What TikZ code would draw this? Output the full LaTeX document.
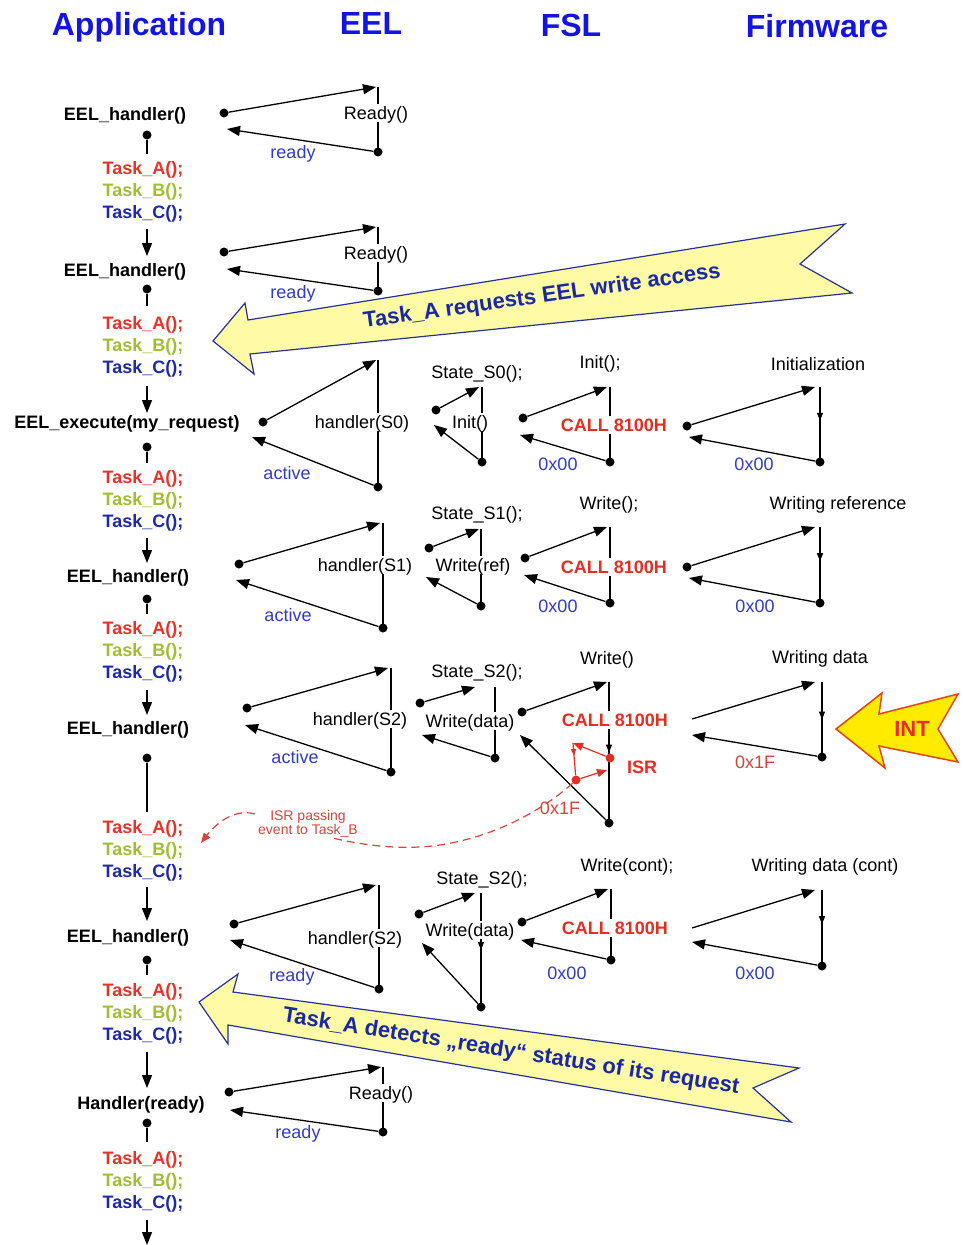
\documentclass[tikz,border=0pt]{standalone}
\usepackage{fontspec}
\setmainfont{Liberation Sans}
\usetikzlibrary{arrows.meta,decorations.markings,calc}

\definecolor{titleblue}{RGB}{20,20,225}
\definecolor{tred}{RGB}{230,50,40}
\definecolor{tgreen}{RGB}{160,190,50}
\definecolor{tblue}{RGB}{30,40,170}
\definecolor{rblue}{RGB}{50,60,190}
\definecolor{callred}{RGB}{230,45,35}
\definecolor{isrred}{RGB}{210,70,60}
\definecolor{bannerfill}{RGB}{255,250,165}
\definecolor{banneredge}{RGB}{40,50,150}
\definecolor{bannertext}{RGB}{25,40,165}
\definecolor{intfill}{RGB}{255,235,0}
\definecolor{intedge}{RGB}{225,70,20}

\newcommand\fsz[1]{\fontsize{#1}{#1}\selectfont}

\tikzset{
  pdot/.style={circle, fill=black, inner sep=0pt, minimum size=9pt},
  nodot/.style={inner sep=0pt, minimum size=0pt},
  rdot/.style={circle, fill=callred, inner sep=0pt, minimum size=9pt},
  ln/.style={line width=1.3pt},
  arr/.style={ln, -{Triangle[length=13pt,width=10pt]}},
  rarr/.style={line width=1.2pt, color=callred, -{Triangle[length=10pt,width=8pt]}},
  midarr/.style={postaction={decorate}, decoration={markings,
      mark=at position #1 with {\arrow{Triangle[length=8pt,width=6pt]}}}},
  ttl/.style={font=\fsz{32}\bfseries, text=titleblue, text height=24pt, text depth=2pt},
  txt/.style={text height=14pt, text depth=1pt, inner sep=1.5pt},
  app/.style={txt, font=\fsz{18}\bfseries},
  ta/.style={app, text=tred},
  tb/.style={app, text=tgreen},
  tc/.style={app, text=tblue},
  lbl/.style={txt, font=\fsz{18}, fill=white},
  ret/.style={txt, font=\fsz{18}, text=rblue},
  retred/.style={txt, font=\fsz{18}, text=isrred},
  call/.style={txt, font=\fsz{18}\bfseries, text=callred, fill=white},
  btxt/.style={font=\fsz{22}\bfseries, text=bannertext},
}

% one call: left start, upper tip, lower dot, return tip
\newcommand\calltri[7]{%
  \node[#6] (#1a) at (#2) {};
  \coordinate (#1t) at (#3);
  \node[pdot] (#1b) at (#4) {};
  \coordinate (#1r) at (#5);
  \draw[arr] (#1a) -- (#1t);
  \draw[ln,#7] (#1b |- #1t) -- (#1b.center);
  \draw[arr] (#1b) -- (#1r);
}

% one step of the application loop
\newcommand\appstep[7]{%
  \node[app] (h#1) at (#2,#3) {#4};
  \node[pdot] (h#1d) at (147,#5) {};
  \coordinate (h#1e) at (147,#6);
  \draw[ln] (h#1d) -- (h#1e);
  \node[ta] (t#1a) at (143,#7) {Task\_A();};
  \node[tb] (t#1b) at (143,#7+22) {Task\_B();};
  \node[tc] (t#1c) at (143,#7+44) {Task\_C();};
}

\begin{document}
\begin{tikzpicture}[x=1pt,y=-1pt]
\fill[white] (0,0) rectangle (963,1245);
\useasboundingbox (0,0) rectangle (963,1245);

% column headings
\node[ttl] (hApp) at (139,24) {Application};
\node[ttl] (hEEL) at (371,23) {EEL};
\node[ttl] (hFSL) at (571,25) {FSL};
\node[ttl] (hFW)  at (817,26) {Firmware};

% banners
\draw[banneredge, fill=bannerfill, line width=1.2pt]
  (213,341) -- (245,303) -- (248,320) -- (845,224) -- (800,264) -- (852,293)
  -- (250,354) -- (254,374) -- cycle;
\node[btxt, rotate=8] (bn1) at (542,297) {Task\_A requests EEL write access};

\draw[banneredge, fill=bannerfill, line width=1.2pt]
  (199,1002) -- (238,974) -- (233,992) -- (799,1068) -- (753,1088) -- (791,1122)
  -- (228,1025) -- (228,1044) -- cycle;
\node[btxt, rotate=-9] (bn2) at (511,1052) {Task\_A detects „ready“ status of its request};

% interrupt arrow
\draw[intedge, fill=intfill, line width=1.5pt]
  (836,729) -- (882,693) -- (879,714) -- (958,694) -- (938,729) -- (958,762)
  -- (879,746) -- (885,768) -- cycle;
\node[font=\fsz{22}\bfseries, text=callred] (int) at (912,729) {INT};

% application loop
\appstep{1}{125}{114}{EEL\_handler()}{135}{154}{168}
\appstep{2}{125}{270}{EEL\_handler()}{289}{306}{323}
\appstep{3}{127}{422}{EEL\_execute(my\_request)}{447}{463}{477}
\appstep{4}{128}{576}{EEL\_handler()}{599}{614}{628}
\appstep{5}{128}{728}{EEL\_handler()}{758}{812}{827}
\appstep{6}{128}{936}{EEL\_handler()}{960}{975}{990}
\appstep{7}{141}{1103}{Handler(ready)}{1123}{1142}{1158}

\coordinate (a1s) at (147,229);  \coordinate (a1e) at (147,256);
\coordinate (a2s) at (147,386);  \coordinate (a2e) at (147,413);
\coordinate (a3s) at (147,538);  \coordinate (a3e) at (147,563);
\coordinate (a4s) at (147,690);  \coordinate (a4e) at (147,715);
\coordinate (a5s) at (147,887);  \coordinate (a5e) at (147,921);
\coordinate (a6s) at (147,1052); \coordinate (a6e) at (147,1088);
\coordinate (a7s) at (147,1220); \coordinate (a7e) at (147,1245);
\foreach \i in {1,...,7} { \draw[arr] (a\i s) -- (a\i e); }

% EEL / FSL / firmware calls
\calltri{e1}{224,113}{376,87}{378,152}{227,129}{pdot}{}
\calltri{e2}{224,252}{376,227}{378,291}{227,269}{pdot}{}
\calltri{e3}{263,422}{376,360}{378,487}{252,437}{pdot}{}
\calltri{s3}{436,410}{479,387}{482,462}{434,425}{pdot}{}
\calltri{f3}{523,418}{607,387}{610,462}{520,435}{pdot}{}
\calltri{w3}{687,426}{815,387}{820,462}{689,437}{pdot}{midarr=0.45}
\calltri{e4}{239,564}{380,523}{383,628}{236,580}{pdot}{}
\calltri{s4}{429,548}{479,529}{481,606}{426,577}{pdot}{}
\calltri{f4}{525,558}{607,527}{610,603}{524,575}{pdot}{}
\calltri{w4}{687,567}{815,527}{820,603}{689,578}{pdot}{midarr=0.45}
\calltri{e5}{247,708}{388,668}{391,772}{245,725}{pdot}{}
\calltri{s5}{420,703}{475,687}{495,758}{422,735}{pdot}{}
\calltri{f5}{522,712}{607,682}{609,823}{520,735}{pdot}{midarr=0.5}
\calltri{w5}{692,719}{815,682}{822,757}{692,735}{nodot}{midarr=0.5}
\calltri{e6}{234,924}{376,885}{379,989}{230,940}{pdot}{}
\calltri{s6}{419,914}{475,893}{481,1007}{422,943}{pdot}{midarr=0.5}
\calltri{f6}{522,922}{608,889}{611,960}{521,940}{pdot}{}
\calltri{w6}{692,928}{815,890}{822,966}{692,942}{nodot}{midarr=0.45}
\calltri{e7}{229,1092}{381,1067}{383,1132}{230,1110}{pdot}{}

% labels of the calls
\node[lbl] (e1l) at (376,113) {Ready()};
\node[ret] (e1v) at (293,152) {ready};
\node[lbl] (e2l) at (376,253) {Ready()};
\node[ret] (e2v) at (293,292) {ready};
\node[lbl] (e3l) at (362,422) {handler(S0)};
\node[ret] (e3v) at (287,473) {active};
\node[lbl] (e4l) at (365,565) {handler(S1)};
\node[ret] (e4v) at (288,615) {active};
\node[lbl] (e5l) at (360,719) {handler(S2)};
\node[ret] (e5v) at (295,757) {active};
\node[lbl] (e6l) at (355,938) {handler(S2)};
\node[ret] (e6v) at (292,975) {ready};
\node[lbl] (e7l) at (381,1093) {Ready()};
\node[ret] (e7v) at (298,1132) {ready};

\node[lbl] (s3h) at (477,372) {State\_S0();};
\node[lbl] (s3l) at (470,422) {Init()};
\node[lbl] (s4h) at (477,513) {State\_S1();};
\node[lbl] (s4l) at (473,565) {Write(ref)};
\node[lbl] (s5h) at (477,671) {State\_S2();};
\node[lbl] (s5l) at (470,721) {Write(data)};
\node[lbl] (s6h) at (482,878) {State\_S2();};
\node[lbl] (s6l) at (470,930) {Write(data)};

\node[lbl]  (f3h) at (600,362) {Init();};
\node[call] (f3l) at (614,425) {CALL 8100H};
\node[ret]  (f3v) at (558,464) {0x00};
\node[lbl]  (f4h) at (609,503) {Write();};
\node[call] (f4l) at (614,567) {CALL 8100H};
\node[ret]  (f4v) at (558,606) {0x00};
\node[lbl]  (f5h) at (607,658) {Write()};
\node[call] (f5l) at (615,720) {CALL 8100H};
\node[retred] (f5v) at (560,808) {0x1F};
\node[lbl]  (f6h) at (627,865) {Write(cont);};
\node[call] (f6l) at (615,928) {CALL 8100H};
\node[ret]  (f6v) at (567,973) {0x00};

\node[lbl] (w3h) at (818,364) {Initialization};
\node[ret] (w3v) at (754,464) {0x00};
\node[lbl] (w4h) at (838,503) {Writing reference};
\node[ret] (w4v) at (755,606) {0x00};
\node[lbl] (w5h) at (820,657) {Writing data};
\node[retred] (w5v) at (755,762) {0x1F};
\node[lbl] (w6h) at (825,865) {Writing data (cont)};
\node[ret] (w6v) at (755,973) {0x00};

% interrupt service routine
\node[rdot] (i1) at (610,758) {};
\coordinate (i2) at (573,743);
\node[rdot] (i3) at (576,780) {};
\coordinate (i4) at (607,770);
\draw[rarr] (i1) -- (i2);
\draw[line width=1.2pt, color=callred, postaction={decorate}, decoration={markings,
  mark=at position 0.4 with {\arrow{Triangle[length=7pt,width=5pt]}}}] (i2) -- (i3);
\draw[rarr] (i3) -- (i4);
\node[txt, font=\fsz{18}\bfseries, text=callred] (isr) at (642,767) {ISR};

% event passed from the ISR to Task_B
\coordinate (evt) at (201,843);
\draw[isrred, line width=1.2pt, dash pattern=on 8pt off 5pt, -{Triangle[length=10pt,width=8pt]}]
  (i3) .. controls (552,802) and (505,835) .. (440,845)
       .. controls (370,855) and (300,830) .. (258,815)
       .. controls (234,806) and (214,826) .. (evt);
\node[font=\fsz{14}, text=isrred, fill=white, align=center, inner sep=1pt] (isrt) at (308,824)
  {ISR passing\\event to Task\_B};
\end{tikzpicture}
\end{document}
